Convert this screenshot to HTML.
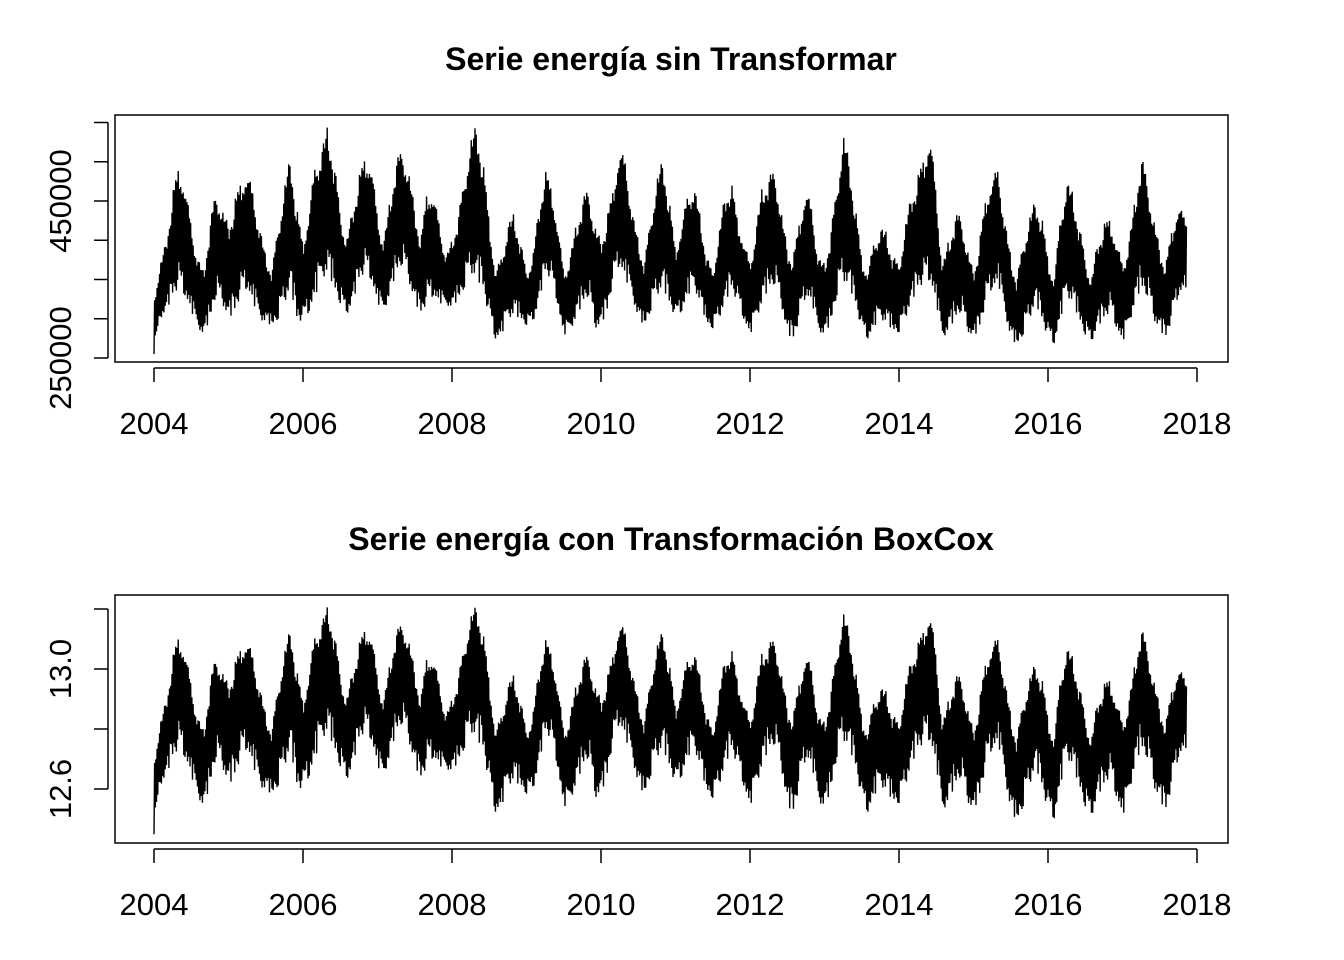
<!DOCTYPE html>
<html><head><meta charset="utf-8">
<style>
html,body{margin:0;padding:0;background:#fff;}
svg{display:block;font-family:"Liberation Sans",Arial,sans-serif;}
</style></head>
<body>
<svg id="c" width="1344" height="960" viewBox="0 0 1344 960">
<rect width="1344" height="960" fill="#fff"/>
</svg>
<script>
// Monthly envelope (high / low) of daily energy series, thousands, starting Jan 2004
const monthsStart = 2004;
const seriesEnd = 2017.86;
const monthlyHigh = [330,370,400,460,500,470,420,380,360,420,467,440,
420,450,480,489,460,420,380,360,420,470,508,440,
400,440,500,520,546,500,440,400,440,480,511,500,
430,400,450,500,519,490,440,400,470,460,420,380,
400,430,480,530,548,500,430,360,380,423,434,400,
360,380,440,489,470,420,360,380,420,450,470,420,
400,430,470,517,500,440,400,370,430,480,504,450,
390,420,460,472,430,380,360,410,460,474,430,400,
370,420,470,480,492,440,390,380,430,466,440,380,
370,410,470,539,500,440,380,360,400,419,410,380,
370,420,458,480,510,540,460,370,400,430,436,390,
360,400,460,480,492,430,380,350,400,430,452,430,
380,350,430,479,460,420,380,350,400,420,432,400,
370,400,450,508,480,430,390,370,420,445,430];
const monthlyLow = [255,300,310,330,340,330,310,290,279,300,330,320,
300,310,330,340,320,300,295,292,300,320,340,300,
296,310,330,350,360,340,320,305,320,350,360,350,
320,309,330,360,370,350,320,308,320,330,320,318,
314,325,340,360,350,340,300,275,280,300,305,300,
292,295,320,360,350,320,279,285,300,320,330,288,
292,310,350,370,350,330,300,292,310,330,340,320,
301,310,330,340,320,295,288,300,320,340,320,300,
279,300,320,340,345,320,280,275,300,330,320,285,
279,295,330,350,340,320,285,275,290,300,295,285,
283,300,320,340,345,350,320,275,285,300,310,285,
275,290,320,340,345,310,275,267,280,300,320,300,
275,269,300,330,320,300,280,270,290,300,310,290,
270,290,320,340,330,300,285,277,300,330,340];
const xTicks = [2004,2006,2008,2010,2012,2014,2016,2018];
const yTicksTop = [250000,300000,350000,400000,450000,500000,550000];
const yLabelsTop = [250000,450000];
const yTicksBot = [12.6,12.8,13.0,13.2];
const yLabelsBot = ["12.6","13.0"];

const NS="http://www.w3.org/2000/svg";
const svg=document.getElementById('c');
function mk(tag,attrs,parent){const e=document.createElementNS(NS,tag);for(const k in attrs)e.setAttribute(k,attrs[k]);(parent||svg).appendChild(e);return e;}
const xS=t=>154+(t-2004)*(1197-154)/14;
// stroke reach pattern within each month (drawing style only)
const reachHi=[1,0.72,0.88,0.6,0.95,0.7,0.82,0.65,0.9,0.75];
const reachLo=[1,0.8,0.6,0.9,0.7,1,0.75,0.85,0.65,0.95];

function panel(o){
  const g=mk('g',{});
  
  
  const title=mk('text',{x:671,y:o.titleY,'text-anchor':'middle','font-size':'32','font-weight':'bold'},g);
  title.textContent=o.title;
  
  
  const box=mk('rect',{x:115,y:o.top,width:1113,height:o.bot-o.top,fill:'none',stroke:'#000','stroke-width':1.5},g);
  
  
  let d='';const sub=10;
  const n=monthlyHigh.length;
  for(let m=0;m<n;m++){
    const hN=monthlyHigh[Math.min(m+1,n-1)], lN=monthlyLow[Math.min(m+1,n-1)];
    for(let k=0;k<sub;k++){
      const f=k/sub;
      const t=monthsStart+(m+f)/12;
      if(t>seriesEnd)break;
      const hi=monthlyHigh[m]*(1-f)+hN*f, lo=monthlyLow[m]*(1-f)+lN*f;
      const mid=(hi+lo)/2;
      const idx=(m*3+k)%10;
      const v=(k%2===0)?(mid-(mid-lo)*reachLo[idx])*1000:(mid+(hi-mid)*reachHi[idx])*1000;
      d+=(d?'L':'M')+xS(t).toFixed(2)+','+o.yS(o.tf(v)).toFixed(2);
    }
  }
  const ln=mk('path',{d:d,fill:'none',stroke:'#000','stroke-width':1.4,'stroke-linejoin':'miter'},g);
  
  
  const ax=o.bot+6;
  const xa=mk('g',{},g);
  
  
  mk('line',{x1:xS(2004),x2:xS(2018),y1:ax,y2:ax,stroke:'#000','stroke-width':1.5},xa);
  xTicks.forEach(t=>{
    mk('line',{x1:xS(t),x2:xS(t),y1:ax,y2:ax+14,stroke:'#000','stroke-width':1.5},xa);
    const tx=mk('text',{x:xS(t),y:ax+66,'text-anchor':'middle','font-size':'31'},xa);
    tx.textContent=t;
    
    
  });
  const ya=mk('g',{},g);
  
  
  const yt=o.yTicks;
  mk('line',{x1:108,x2:108,y1:o.yS(yt[0]),y2:o.yS(yt[yt.length-1]),stroke:'#000','stroke-width':1.5},ya);
  yt.forEach(v=>mk('line',{x1:94,x2:108,y1:o.yS(v),y2:o.yS(v),stroke:'#000','stroke-width':1.5},ya));
  o.yLabels.forEach(l=>{
    const y=o.yS(+l);
    const tx=mk('text',{x:0,y:0,'text-anchor':'middle','font-size':'31',transform:`translate(71,${y}) rotate(-90)`},ya);
    tx.textContent=l;
    
    
  });
}
panel({name:'raw-series-panel',title:'Serie energía sin Transformar',titleY:70,top:115,bot:362,
  tf:v=>v,yS:v=>358-(v-250000)*(358-201)/200000,yTicks:yTicksTop,yLabels:yLabelsTop});
panel({name:'boxcox-series-panel',title:'Serie energía con Transformación BoxCox',titleY:550,top:595,bot:843,
  tf:v=>Math.log(v),yS:v=>669-(v-13)*300,yTicks:yTicksBot,yLabels:yLabelsBot});
</script>
</body></html>
